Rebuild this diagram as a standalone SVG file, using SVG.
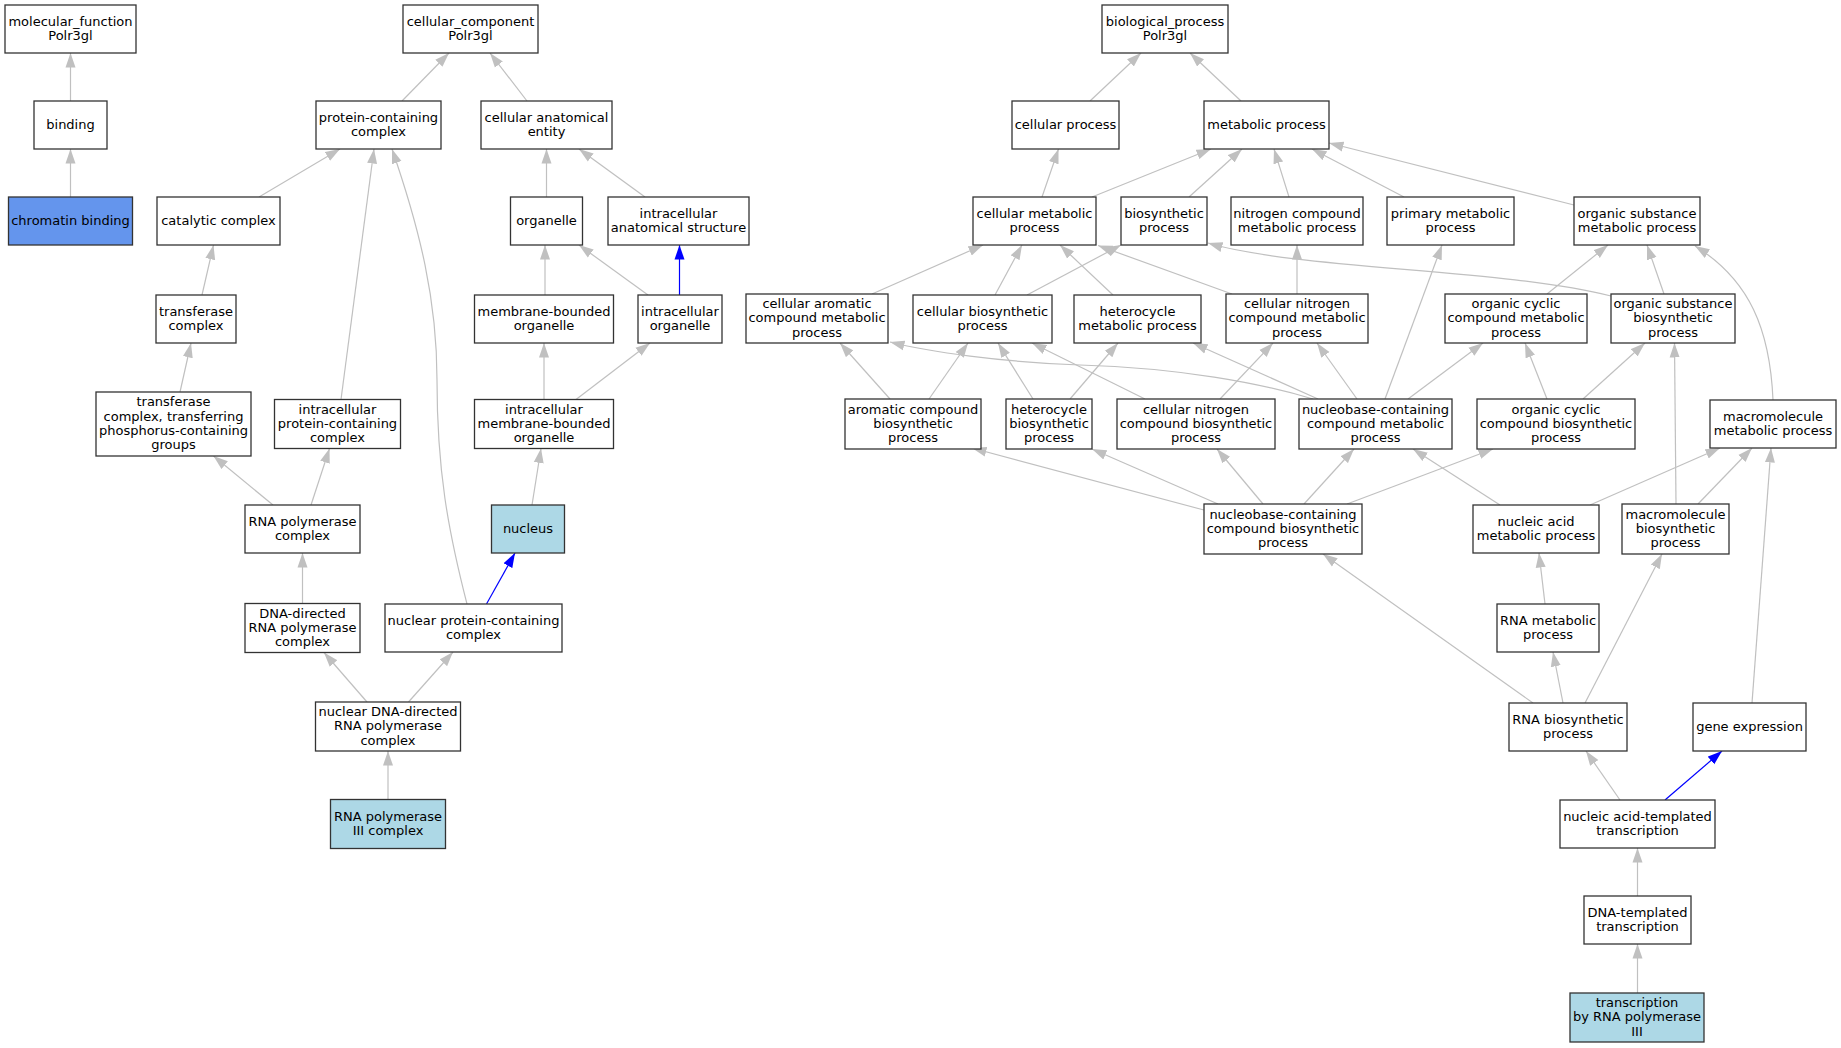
<svg xmlns="http://www.w3.org/2000/svg" width="1841" height="1048" viewBox="0 0 1841 1048">
<style>
.node rect{fill:#ffffff;stroke:#333333;stroke-width:1.3}
.node rect.lb{fill:#add8e6}
.node rect.cb{fill:#6495ed}
.node text{font-family:"DejaVu Sans","Liberation Sans",sans-serif;font-size:13px;text-anchor:middle;fill:#000000}
.edges path{fill:none;stroke:#c0c0c0;stroke-width:1.2;marker-end:url(#ag)}
.edges path.b{stroke:#0000ff;marker-end:url(#ab)}
</style>
<defs>
<marker id="ag" markerUnits="userSpaceOnUse" markerWidth="15" markerHeight="11" viewBox="0 0 15 11" refX="14.5" refY="5.5" orient="auto"><path d="M0,0.5 L14.5,5.5 L0,10.5 z" fill="#c0c0c0"/></marker>
<marker id="ab" markerUnits="userSpaceOnUse" markerWidth="15" markerHeight="11" viewBox="0 0 15 11" refX="14.5" refY="5.5" orient="auto"><path d="M0,0.5 L14.5,5.5 L0,10.5 z" fill="#0000ff"/></marker>
</defs>
<rect x="0" y="0" width="1841" height="1048" fill="#ffffff"/>
<g id="connectors" class="edges">
<path d="M70.5,101 L70.5,53"/>
<path d="M70.5,197 L70.5,149"/>
<path d="M402,101 L449,53"/>
<path d="M527,101 L490,53"/>
<path d="M259,197 L340,149"/>
<path d="M341,399.5 L374,149"/>
<path d="M467,604 C448,530 437,470 437,380 C437,300 420,230 392,149"/>
<path d="M546.5,197 L546.5,149"/>
<path d="M645,197 L579,149"/>
<path d="M545,295 L545,245"/>
<path d="M648,295 L579,245"/>
<path class="b" d="M679.5,295 L679.5,245"/>
<path d="M202,295 L213.5,245"/>
<path d="M180,392 L191,343"/>
<path d="M544,399.5 L544,343"/>
<path d="M576,399.5 L650,343"/>
<path d="M273,505 L213.5,456"/>
<path d="M311,505 L329.5,448.5"/>
<path d="M532,505 L541,448.5"/>
<path d="M302.5,603.5 L302.5,553"/>
<path class="b" d="M486.5,604 L515,553"/>
<path d="M367,702 L324,652.5"/>
<path d="M408.5,702 L453,652"/>
<path d="M388,799.5 L388,751"/>
<path d="M1090,101 L1141,53"/>
<path d="M1241,101 L1190,53"/>
<path d="M1042,197 L1058.5,149"/>
<path d="M1092,197 L1211,149"/>
<path d="M1189,197 L1242,149"/>
<path d="M1289,197 L1274,149"/>
<path d="M1404,197 L1312,149"/>
<path d="M1574,205 L1329,143"/>
<path d="M872,294 L983,245"/>
<path d="M995,295 L1022,245"/>
<path d="M1113,295 L1060,245"/>
<path d="M1232,294 L1098,245.5"/>
<path d="M1027,295 L1121,245"/>
<path d="M1297,294 L1297,245"/>
<path d="M1547,294 L1608,245"/>
<path d="M1664,294 L1647,245"/>
<path d="M1611,296 C1500,268 1300,270 1208,243"/>
<path d="M1385,399 L1442,245"/>
<path d="M1773,400 C1770,330 1750,280 1695,246"/>
<path d="M890,399 L840,343"/>
<path d="M929,399 L968,343"/>
<path d="M1033,399 L998,343"/>
<path d="M1070,399 L1118,343"/>
<path d="M1145,399 L1032,343"/>
<path d="M1220,399 L1273,343"/>
<path d="M1313,399 C1260,383 1180,368 1080,365 C1000,362 930,352 890,342"/>
<path d="M1318,399 L1193,343"/>
<path d="M1357,399 L1317,343"/>
<path d="M1408,399 L1483,343"/>
<path d="M1547,399 L1525,343"/>
<path d="M1583,399 L1645,343"/>
<path d="M1676,504 L1674.5,343"/>
<path d="M1698,504 L1752,448"/>
<path d="M1590,505 L1720,448"/>
<path d="M1500,505 L1413,449"/>
<path d="M1204,510 L972,448"/>
<path d="M1218,504 L1092,449"/>
<path d="M1263,504 L1217,449"/>
<path d="M1304,504 L1354,449"/>
<path d="M1347,504 L1493,449"/>
<path d="M1545,604 L1539,553"/>
<path d="M1533,703 L1323,554"/>
<path d="M1563,703 L1553,652"/>
<path d="M1585,703 L1662,554"/>
<path d="M1752,703 L1771,448"/>
<path d="M1620,800 L1586,751"/>
<path class="b" d="M1665,800 L1722,751"/>
<path d="M1637.5,896 L1637.5,848"/>
<path d="M1637.5,993 L1637.5,944"/>
</g>
<g id="n1" class="node"><rect x="5" y="5" width="131" height="48"/><text><tspan x="70.5" y="25.7">molecular_function</tspan><tspan x="70.5" y="40">Polr3gl</tspan></text></g>
<g id="n2" class="node"><rect x="34" y="101" width="73" height="48"/><text><tspan x="70.5" y="129">binding</tspan></text></g>
<g id="n3" class="node"><rect class="cb" x="8.5" y="197" width="124" height="48"/><text><tspan x="70.5" y="225">chromatin binding</tspan></text></g>
<g id="n4" class="node"><rect x="157" y="197" width="123" height="48"/><text><tspan x="218.5" y="225">catalytic complex</tspan></text></g>
<g id="n5" class="node"><rect x="156" y="295" width="80" height="48"/><text><tspan x="196" y="315.7">transferase</tspan><tspan x="196" y="330">complex</tspan></text></g>
<g id="n6" class="node"><rect x="316" y="101" width="125" height="48"/><text><tspan x="378.5" y="121.7">protein-containing</tspan><tspan x="378.5" y="136">complex</tspan></text></g>
<g id="n7" class="node"><rect x="403" y="5" width="135" height="48"/><text><tspan x="470.5" y="25.7">cellular_component</tspan><tspan x="470.5" y="40">Polr3gl</tspan></text></g>
<g id="n8" class="node"><rect x="481" y="101" width="131" height="48"/><text><tspan x="546.5" y="121.7">cellular anatomical</tspan><tspan x="546.5" y="136">entity</tspan></text></g>
<g id="n9" class="node"><rect x="510.5" y="197" width="72" height="48"/><text><tspan x="546.5" y="225">organelle</tspan></text></g>
<g id="n10" class="node"><rect x="474.5" y="295" width="139" height="48"/><text><tspan x="544" y="315.7">membrane-bounded</tspan><tspan x="544" y="330">organelle</tspan></text></g>
<g id="n11" class="node"><rect x="96" y="392" width="155" height="64"/><text><tspan x="173.5" y="406.4">transferase</tspan><tspan x="173.5" y="420.7">complex, transferring</tspan><tspan x="173.5" y="435">phosphorus-containing</tspan><tspan x="173.5" y="449.3">groups</tspan></text></g>
<g id="n12" class="node"><rect x="274.5" y="399.5" width="126" height="49"/><text><tspan x="337.5" y="413.5">intracellular</tspan><tspan x="337.5" y="427.8">protein-containing</tspan><tspan x="337.5" y="442.1">complex</tspan></text></g>
<g id="n13" class="node"><rect x="474.5" y="399.5" width="139" height="49"/><text><tspan x="544" y="413.5">intracellular</tspan><tspan x="544" y="427.8">membrane-bounded</tspan><tspan x="544" y="442.1">organelle</tspan></text></g>
<g id="n14" class="node"><rect x="245" y="505" width="115" height="48"/><text><tspan x="302.5" y="525.7">RNA polymerase</tspan><tspan x="302.5" y="540">complex</tspan></text></g>
<g id="n15" class="node"><rect class="lb" x="491.5" y="505" width="73" height="48"/><text><tspan x="528" y="533">nucleus</tspan></text></g>
<g id="n16" class="node"><rect x="245" y="603.5" width="115" height="49"/><text><tspan x="302.5" y="617.5">DNA-directed</tspan><tspan x="302.5" y="631.8">RNA polymerase</tspan><tspan x="302.5" y="646.1">complex</tspan></text></g>
<g id="n17" class="node"><rect x="385" y="604" width="177" height="48"/><text><tspan x="473.5" y="624.7">nuclear protein-containing</tspan><tspan x="473.5" y="639">complex</tspan></text></g>
<g id="n18" class="node"><rect x="315.5" y="702" width="145" height="49"/><text><tspan x="388" y="716">nuclear DNA-directed</tspan><tspan x="388" y="730.3">RNA polymerase</tspan><tspan x="388" y="744.6">complex</tspan></text></g>
<g id="n19" class="node"><rect class="lb" x="330.5" y="799.5" width="115" height="49"/><text><tspan x="388" y="820.7">RNA polymerase</tspan><tspan x="388" y="835">III complex</tspan></text></g>
<g id="n20" class="node"><rect x="608" y="197" width="141" height="48"/><text><tspan x="678.5" y="217.7">intracellular</tspan><tspan x="678.5" y="232">anatomical structure</tspan></text></g>
<g id="n21" class="node"><rect x="638" y="295" width="84" height="48"/><text><tspan x="680" y="315.7">intracellular</tspan><tspan x="680" y="330">organelle</tspan></text></g>
<g id="n22" class="node"><rect x="746" y="294" width="142" height="49"/><text><tspan x="817" y="308">cellular aromatic</tspan><tspan x="817" y="322.3">compound metabolic</tspan><tspan x="817" y="336.6">process</tspan></text></g>
<g id="n23" class="node"><rect x="913" y="295" width="139" height="48"/><text><tspan x="982.5" y="315.7">cellular biosynthetic</tspan><tspan x="982.5" y="330">process</tspan></text></g>
<g id="n24" class="node"><rect x="845" y="399" width="136" height="50"/><text><tspan x="913" y="413.5">aromatic compound</tspan><tspan x="913" y="427.8">biosynthetic</tspan><tspan x="913" y="442.1">process</tspan></text></g>
<g id="n25" class="node"><rect x="1006" y="399" width="86" height="50"/><text><tspan x="1049" y="413.5">heterocycle</tspan><tspan x="1049" y="427.8">biosynthetic</tspan><tspan x="1049" y="442.1">process</tspan></text></g>
<g id="n26" class="node"><rect x="1012" y="101" width="107" height="48"/><text><tspan x="1065.5" y="129">cellular process</tspan></text></g>
<g id="n27" class="node"><rect x="973" y="197" width="123" height="48"/><text><tspan x="1034.5" y="217.7">cellular metabolic</tspan><tspan x="1034.5" y="232">process</tspan></text></g>
<g id="n28" class="node"><rect x="1102" y="5" width="126" height="48"/><text><tspan x="1165" y="25.7">biological_process</tspan><tspan x="1165" y="40">Polr3gl</tspan></text></g>
<g id="n29" class="node"><rect x="1204" y="101" width="125" height="48"/><text><tspan x="1266.5" y="129">metabolic process</tspan></text></g>
<g id="n30" class="node"><rect x="1121" y="197" width="86" height="48"/><text><tspan x="1164" y="217.7">biosynthetic</tspan><tspan x="1164" y="232">process</tspan></text></g>
<g id="n31" class="node"><rect x="1231" y="197" width="132" height="48"/><text><tspan x="1297" y="217.7">nitrogen compound</tspan><tspan x="1297" y="232">metabolic process</tspan></text></g>
<g id="n32" class="node"><rect x="1387" y="197" width="127" height="48"/><text><tspan x="1450.5" y="217.7">primary metabolic</tspan><tspan x="1450.5" y="232">process</tspan></text></g>
<g id="n33" class="node"><rect x="1574" y="197" width="126" height="48"/><text><tspan x="1637" y="217.7">organic substance</tspan><tspan x="1637" y="232">metabolic process</tspan></text></g>
<g id="n34" class="node"><rect x="1074" y="295" width="127" height="48"/><text><tspan x="1137.5" y="315.7">heterocycle</tspan><tspan x="1137.5" y="330">metabolic process</tspan></text></g>
<g id="n35" class="node"><rect x="1226" y="294" width="142" height="49"/><text><tspan x="1297" y="308">cellular nitrogen</tspan><tspan x="1297" y="322.3">compound metabolic</tspan><tspan x="1297" y="336.6">process</tspan></text></g>
<g id="n36" class="node"><rect x="1445" y="294" width="142" height="49"/><text><tspan x="1516" y="308">organic cyclic</tspan><tspan x="1516" y="322.3">compound metabolic</tspan><tspan x="1516" y="336.6">process</tspan></text></g>
<g id="n37" class="node"><rect x="1611" y="294" width="124" height="49"/><text><tspan x="1673" y="308">organic substance</tspan><tspan x="1673" y="322.3">biosynthetic</tspan><tspan x="1673" y="336.6">process</tspan></text></g>
<g id="n38" class="node"><rect x="1117" y="399" width="158" height="50"/><text><tspan x="1196" y="413.5">cellular nitrogen</tspan><tspan x="1196" y="427.8">compound biosynthetic</tspan><tspan x="1196" y="442.1">process</tspan></text></g>
<g id="n39" class="node"><rect x="1299" y="399" width="153" height="50"/><text><tspan x="1375.5" y="413.5">nucleobase-containing</tspan><tspan x="1375.5" y="427.8">compound metabolic</tspan><tspan x="1375.5" y="442.1">process</tspan></text></g>
<g id="n40" class="node"><rect x="1477" y="399" width="158" height="50"/><text><tspan x="1556" y="413.5">organic cyclic</tspan><tspan x="1556" y="427.8">compound biosynthetic</tspan><tspan x="1556" y="442.1">process</tspan></text></g>
<g id="n41" class="node"><rect x="1710" y="400" width="126" height="48"/><text><tspan x="1773" y="420.7">macromolecule</tspan><tspan x="1773" y="435">metabolic process</tspan></text></g>
<g id="n42" class="node"><rect x="1204" y="504" width="158" height="50"/><text><tspan x="1283" y="518.5">nucleobase-containing</tspan><tspan x="1283" y="532.8">compound biosynthetic</tspan><tspan x="1283" y="547.1">process</tspan></text></g>
<g id="n43" class="node"><rect x="1473" y="505" width="126" height="48"/><text><tspan x="1536" y="525.7">nucleic acid</tspan><tspan x="1536" y="540">metabolic process</tspan></text></g>
<g id="n44" class="node"><rect x="1622" y="504" width="107" height="50"/><text><tspan x="1675.5" y="518.5">macromolecule</tspan><tspan x="1675.5" y="532.8">biosynthetic</tspan><tspan x="1675.5" y="547.1">process</tspan></text></g>
<g id="n45" class="node"><rect x="1497" y="604" width="102" height="48"/><text><tspan x="1548" y="624.7">RNA metabolic</tspan><tspan x="1548" y="639">process</tspan></text></g>
<g id="n46" class="node"><rect x="1509" y="703" width="118" height="48"/><text><tspan x="1568" y="723.7">RNA biosynthetic</tspan><tspan x="1568" y="738">process</tspan></text></g>
<g id="n47" class="node"><rect x="1693" y="703" width="113" height="48"/><text><tspan x="1749.5" y="731">gene expression</tspan></text></g>
<g id="n48" class="node"><rect x="1560" y="800" width="155" height="48"/><text><tspan x="1637.5" y="820.7">nucleic acid-templated</tspan><tspan x="1637.5" y="835">transcription</tspan></text></g>
<g id="n49" class="node"><rect x="1584" y="896" width="107" height="48"/><text><tspan x="1637.5" y="916.7">DNA-templated</tspan><tspan x="1637.5" y="931">transcription</tspan></text></g>
<g id="n50" class="node"><rect class="lb" x="1570" y="993" width="134" height="49"/><text><tspan x="1637" y="1007">transcription</tspan><tspan x="1637" y="1021.3">by RNA polymerase</tspan><tspan x="1637" y="1035.6">III</tspan></text></g>
</svg>
